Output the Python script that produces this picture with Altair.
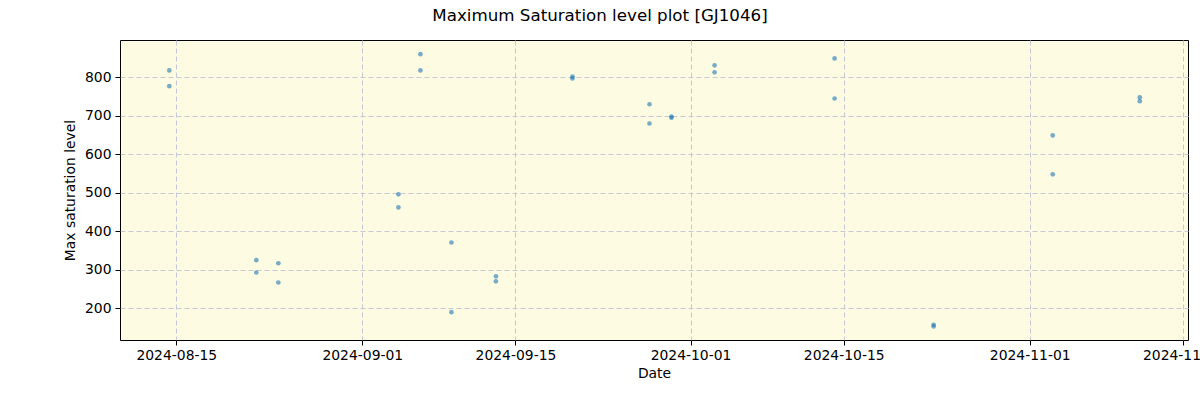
import altair as alt
import pandas as pd

dates = [
    "2024-08-14T08:40", "2024-08-14T08:40",
    "2024-08-22T07:35", "2024-08-22T07:35",
    "2024-08-24T07:50", "2024-08-24T07:50",
    "2024-09-04T07:10", "2024-09-04T07:10",
    "2024-09-06T07:30", "2024-09-06T07:30",
    "2024-09-09T03:30", "2024-09-09T03:30",
    "2024-09-13T05:15", "2024-09-13T05:00",
    "2024-09-20T05:00", "2024-09-20T05:00",
    "2024-09-27T06:00", "2024-09-27T06:00",
    "2024-09-29T06:15", "2024-09-29T06:15",
    "2024-10-03T04:45", "2024-10-03T04:45",
    "2024-10-14T04:00", "2024-10-14T04:00",
    "2024-10-23T05:15", "2024-10-23T05:15",
    "2024-11-03T02:30", "2024-11-03T02:30",
    "2024-11-11T01:30", "2024-11-11T01:30",
]
values = [
    818, 777,
    325, 293,
    317, 267,
    496, 462,
    860, 818,
    371, 190,
    283, 270,
    802, 797,
    730, 680,
    698, 695,
    831, 813,
    849, 745,
    157, 153,
    649, 548,
    748, 738,
]
x_ticks = ["2024-08-15", "2024-09-01", "2024-09-15", "2024-10-01",
           "2024-10-15", "2024-11-01", "2024-11-15"]
y_ticks = [200, 300, 400, 500, 600, 700, 800]

df = pd.DataFrame({"date": pd.to_datetime(dates), "value": values})

x_domain = [pd.Timestamp("2024-08-09T20:30").isoformat(), pd.Timestamp("2024-11-15T11:15").isoformat()]

tick_vals = [alt.DateTime(year=int(d[:4]), month=int(d[5:7]), date=int(d[8:10])) for d in x_ticks]

chart = alt.Chart(df).mark_circle(size=22, color="#1f77b4", opacity=0.6).encode(
    x=alt.X("date:T", title="Date",
            scale=alt.Scale(domain=x_domain),
            axis=alt.Axis(values=tick_vals, format="%Y-%m-%d", labelFontSize=13.9,
                          titleFontSize=13.9, titleFontWeight="normal", labelColor="black",
                          titleColor="black", tickColor="black", tickSize=5,
                          labelPadding=3, titlePadding=5, domain=False,
                          gridColor="#c8c8d4", gridDash=[5, 3], gridWidth=1,
                          labelFlush=False, labelOverlap=False)),
    y=alt.Y("value:Q", title="Max saturation level",
            scale=alt.Scale(domain=[117.7, 896.9], nice=False, zero=False),
            axis=alt.Axis(values=y_ticks, labelFontSize=13.9, titleFontSize=13.9,
                          titleFontWeight="normal", labelColor="black",
                          titleColor="black", tickColor="black", tickSize=5,
                          labelPadding=4, titlePadding=7, domain=False,
                          gridColor="#c8c8d4", gridDash=[5, 3], gridWidth=1)),
).properties(
    width=1068, height=300,
    title=alt.TitleParams("Maximum Saturation level plot [GJ1046]", fontSize=16.7,
                          fontWeight="normal", color="black", anchor="middle",
                          dx=-54, offset=15, font="DejaVu Sans"),
    autosize=alt.AutoSizeParams(type="none"),
    padding={"left": 120, "top": 40, "right": 12, "bottom": 60},
    background="white",
).configure(font="DejaVu Sans").configure_view(
    fill="#fdfbe2", stroke="black", strokeWidth=1
)

chart.save("out.html", embed_options={"renderer": "svg", "actions": False})
